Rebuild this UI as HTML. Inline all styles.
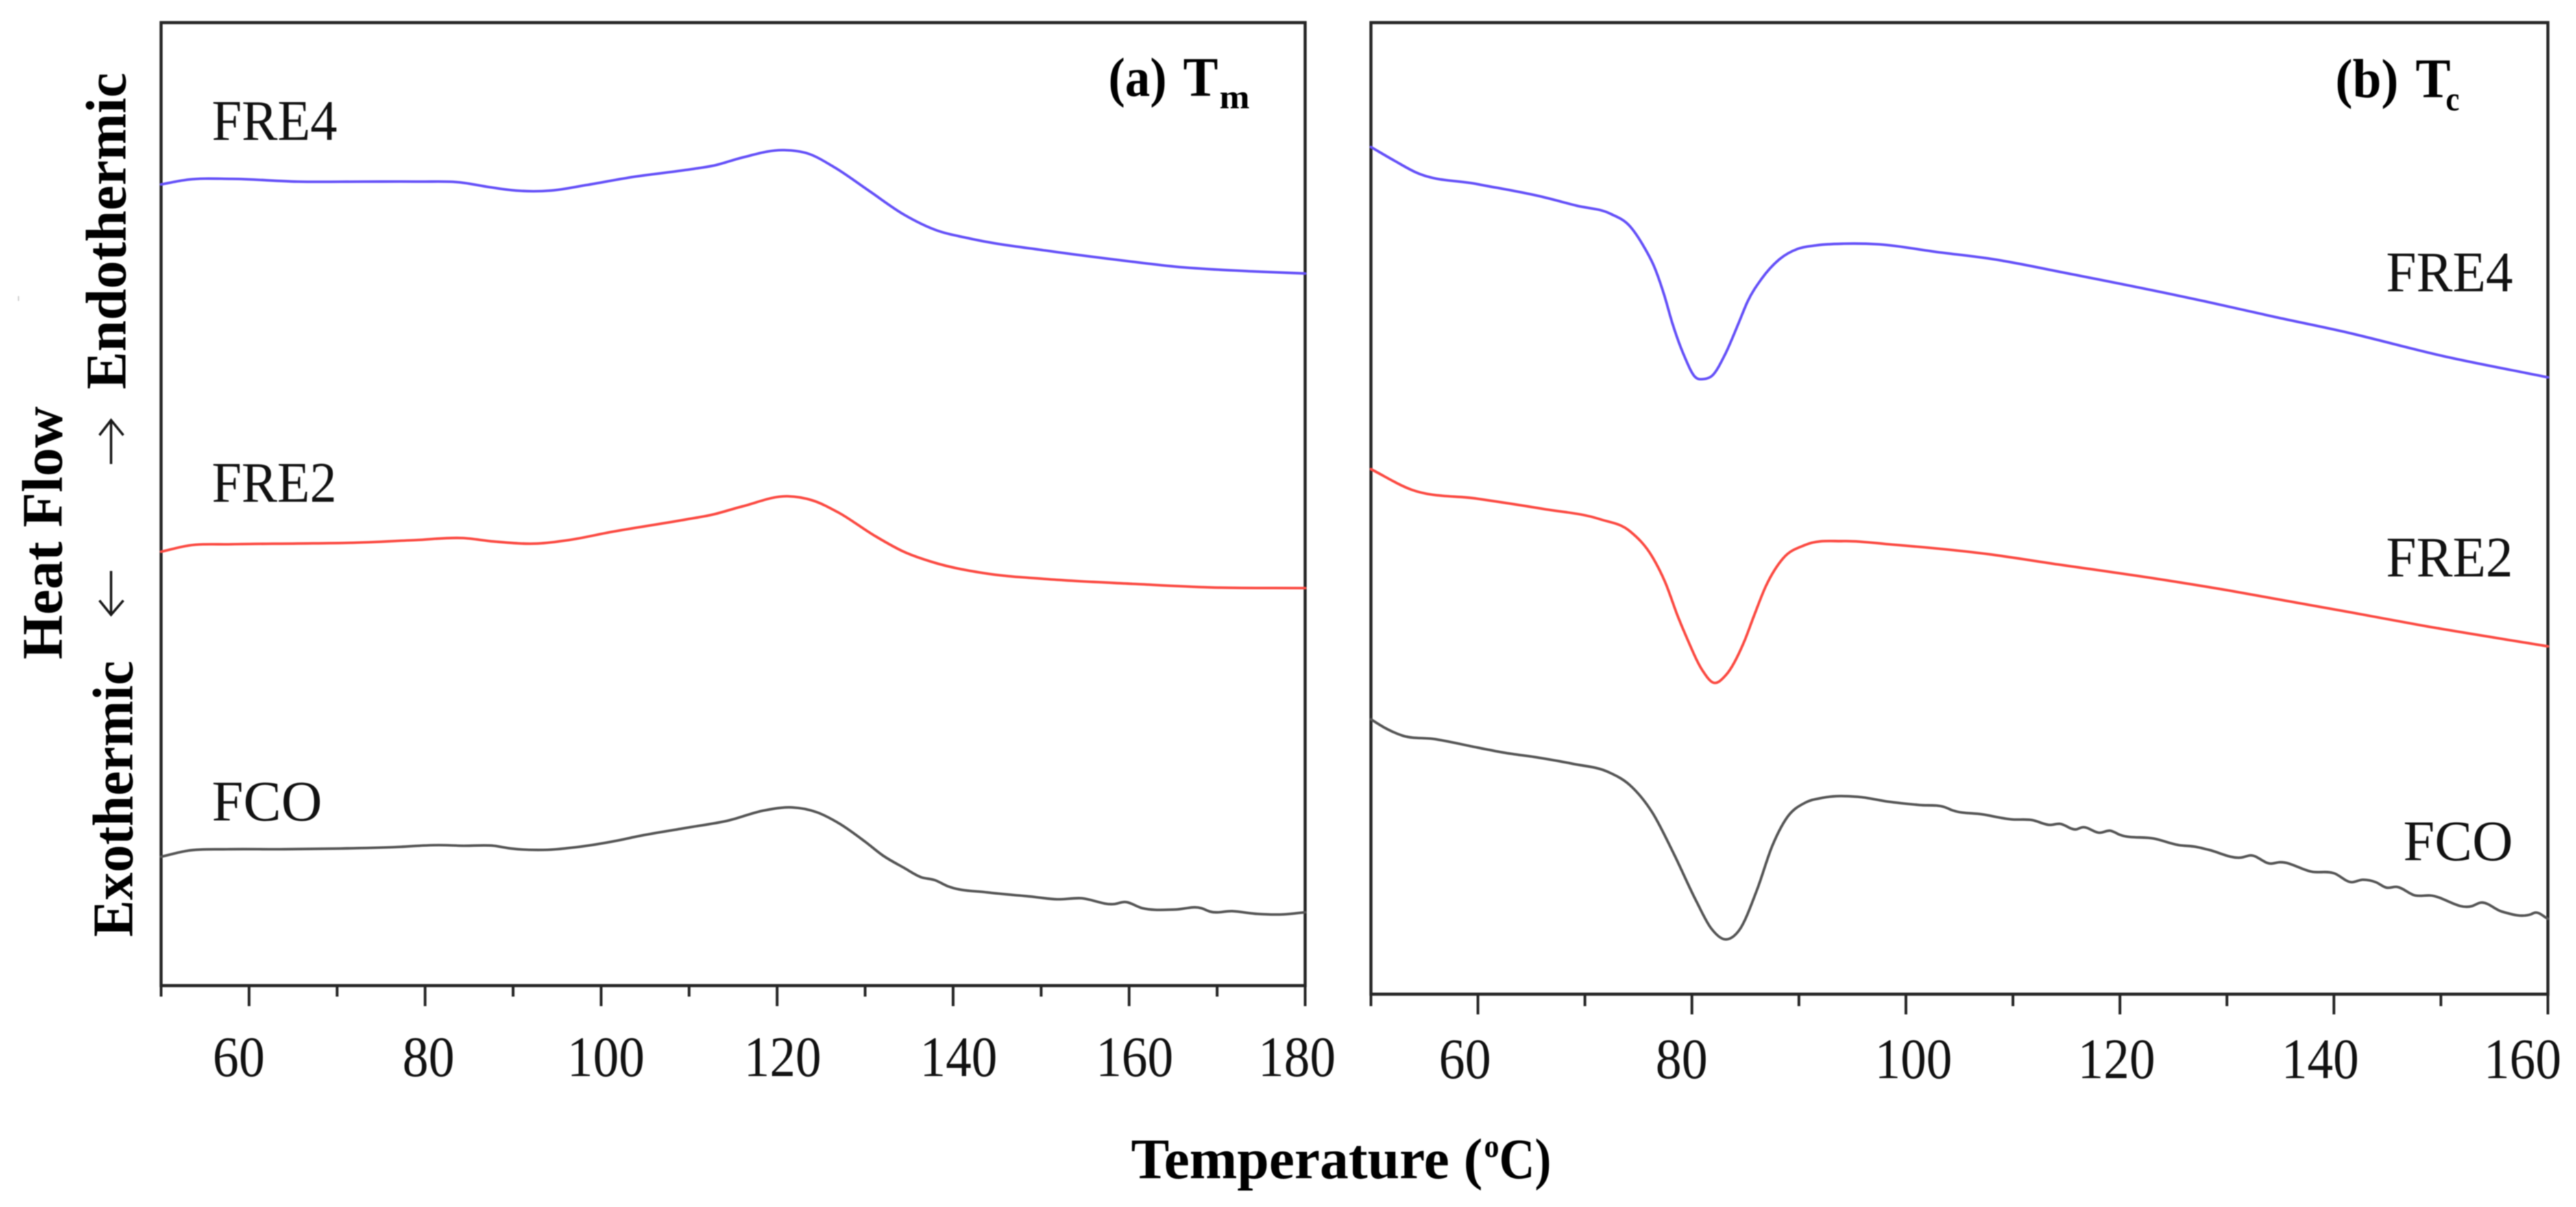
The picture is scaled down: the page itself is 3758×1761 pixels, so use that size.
<!DOCTYPE html>
<html lang="en">
<head>
<meta charset="utf-8">
<title>DSC curves: melting and crystallization</title>
<style>
html,body{margin:0;padding:0;background:#fff;}
svg{display:block;filter:blur(0.7px);}
text{font-family:"Liberation Serif","DejaVu Serif",serif;fill:#111;}
.b{font-weight:bold;fill:#000;}
.axis{stroke:#262626;stroke-width:4.5;fill:none;}
.tick{stroke:#262626;stroke-width:4;}
.curve{fill:none;stroke-width:3.8;stroke-linejoin:round;stroke-linecap:round;}
</style>
</head>
<body>
<svg id="chart" xmlns="http://www.w3.org/2000/svg" width="3758" height="1761" viewBox="0 0 3758 1761">
  <rect x="0" y="0" width="3758" height="1761" fill="#ffffff"/>
  <rect x="26" y="432" width="2" height="7" fill="#cfcfcf"/>

  <g id="panel-a">
    <rect class="axis" x="235" y="33" width="1669" height="1405"/>
    <g id="ticks-a"></g>
    <g id="curves-a"></g>
    <text x="309" y="204" font-size="84" textLength="183" lengthAdjust="spacingAndGlyphs">FRE4</text>
    <text x="309" y="732" font-size="84" textLength="182" lengthAdjust="spacingAndGlyphs">FRE2</text>
    <text x="309" y="1197" font-size="84" textLength="161" lengthAdjust="spacingAndGlyphs">FCO</text>
    <g>
      <text class="b" x="1617" y="140" font-size="80" textLength="85" lengthAdjust="spacingAndGlyphs">(a)</text>
      <text class="b" x="1726" y="140" font-size="82" textLength="51" lengthAdjust="spacingAndGlyphs">T</text>
      <text class="b" x="1779" y="158" font-size="50" textLength="44" lengthAdjust="spacingAndGlyphs">m</text>
    </g>
  </g>

  <g id="panel-b">
    <rect class="axis" x="2000" y="33" width="1717" height="1417.5"/>
    <g id="ticks-b"></g>
    <g id="curves-b"></g>
    <text x="3481" y="425" font-size="84" textLength="185" lengthAdjust="spacingAndGlyphs">FRE4</text>
    <text x="3481" y="841" font-size="84" textLength="185" lengthAdjust="spacingAndGlyphs">FRE2</text>
    <text x="3506" y="1255" font-size="84" textLength="160" lengthAdjust="spacingAndGlyphs">FCO</text>
    <g>
      <text class="b" x="3407" y="142" font-size="80" textLength="92" lengthAdjust="spacingAndGlyphs">(b)</text>
      <text class="b" x="3524" y="142" font-size="82" textLength="51" lengthAdjust="spacingAndGlyphs">T</text>
      <text class="b" x="3568" y="161" font-size="50" textLength="20" lengthAdjust="spacingAndGlyphs">c</text>
    </g>
  </g>

  <g>
    <text class="b" transform="translate(90,962) rotate(-90)" font-size="84" textLength="369" lengthAdjust="spacingAndGlyphs">Heat Flow</text>
    <text class="b" transform="translate(183,568) rotate(-90)" font-size="84" textLength="462" lengthAdjust="spacingAndGlyphs">Endothermic</text>
    <text class="b" transform="translate(193,1367) rotate(-90)" font-size="84" textLength="403" lengthAdjust="spacingAndGlyphs">Exothermic</text>
    <g fill="none" stroke="#1a1a1a" stroke-width="3.6">
      <line x1="162" y1="677" x2="162" y2="614"/>
      <polyline points="145,635 162,613 180,635"/>
    </g>
    <g fill="none" stroke="#1a1a1a" stroke-width="3.6">
      <line x1="162" y1="833" x2="162" y2="896"/>
      <polyline points="145,876 162,897 180,876"/>
    </g>
  </g>

  <g>
    <text class="b" x="1650" y="1719" font-size="84" textLength="513" lengthAdjust="spacingAndGlyphs">Temperature (</text>
    <text class="b" x="2165" y="1688" font-size="48" textLength="22" lengthAdjust="spacingAndGlyphs">o</text>
    <text class="b" x="2187" y="1719" font-size="84" textLength="76" lengthAdjust="spacingAndGlyphs">C)</text>
  </g>
</svg>

<script>
// ---- Panel (a) melting: temperature in deg C, heat flow in arbitrary units ----
const tempA_FRE4 = [50,53.1,58,65.5,73,79.4,83.9,87.3,90.3,94.3,98.3,103.7,109.6,113,116,120.8,123.5,126.5,130.4,134.4,137.9,141.9,150.8,159.2,165.2,174.2,180];
const heatA_FRE4 = [1169,1176,1177,1173,1173,1173,1172,1165,1160,1160,1168,1180,1190,1197,1208,1219,1214,1194,1160,1125,1103,1090,1072,1058,1049,1042,1039];
const tempA_FRE2 = [50,53.1,58,65.5,71.4,78.9,84.3,87.8,92.8,96.3,101.2,109.6,112.6,116,121.2,124,127,131,134.4,137.9,143.4,150.8,160.7,169.2,180];
const heatA_FRE2 = [633,642,644,645,646,650,653,648,645,650,662,680,687,699,714,708,690,657,633,617,602,593,586,581,580];
const tempA_FCO = [50,53.1,57.5,63.5,70.4,76.4,81.6,84.3,87.8,89.8,93.5,97.8,102.2,104.2,109.6,114.5,118.5,121.7,124.5,127,130,132,134.4,136.4,137.9,139.4,143.9,148.8,151.8,154.5,158.3,159.5,161.5,165.2,168.2,169.2,171.7,174.6,177.6,180];
const heatA_FCO = [188,197,199,199,200,202,205,204,204,200,198,203,212.5,218,230,241,255.5,260,253,237,210,190,172,158,154,145,136,130,126,127.5,119,122,113,111,113,108,108.6,104.6,104,107];

// ---- Panel (b) crystallization ----
const tempB_FRE4 = [50,52.2,54.2,59.9,66.1,69.2,72.4,74.2,75.4,76.5,77.4,78.2,79.3,80.3,81.1,81.9,83.1,84.4,85.2,86.5,88.2,89.9,91.6,94.2,97.5,102.8,108.3,115,127.9,134.5,140.8,150.2,160];
const heatB_FRE4 = [1236,1216,1199,1182,1163,1150.5,1138.5,1120.5,1093.5,1060.5,1020.5,977.5,930.5,900.5,897.5,902.5,933.5,980.5,1010.5,1043.5,1072.5,1087.5,1092.5,1095,1094,1083,1072,1052,1011,988,967,931,900];
const tempB_FRE2 = [50,53.8,59.9,66.1,71.4,74.2,76.3,77.5,78.7,79.5,81,82,83.2,84.9,85.8,86.9,88.5,90.6,94.2,98.7,107.7,114.2,122,130,135.7,141.6,148.2,160];
const heatB_FRE2 = [766,736,723,708,693,675.5,638,601,550.5,520.6,472,454.5,466,515,552,595,635.5,655.5,661,656,642,627,609.5,589.5,573.5,557,538,507.5];
const tempB_FCO = [50,51.3,53,55.8,59.9,62.4,65.7,68.9,72.2,74.2,76.3,78.3,80.4,81.8,83.1,84.4,86.1,87.5,88.9,90.6,92.2,95.5,98.3,101.25,103.6,104.4,107.1,109.9,111.8,113.4,114.4,115.9,116.5,118.1,119.1,120,123.2,125.5,127.1,128.3,131.4,132.2,134.1,134.9,138,140,141.6,142.7,143.9,144.9,145.9,147.6,149,152.9,153.7,155.7,158.4,158.8,160];
const heatB_FCO = [401,388.6,377,372.5,360,352.5,345,336,324,305,265,205,136,96,80,93,153,216,258,279.5,286.5,288,281,276,273,268,262.5,255,254,247,248.5,240.5,243.5,235.5,238.5,232.5,227,217.5,215,210.6,199.5,202.5,190.5,192.5,178.5,176.5,163.5,167,163.5,155.5,156.5,144,144,128.5,133.5,120.5,116.5,119,110];

// ---- Axis ticks ----
const majorTicksA = [60,80,100,120,140,160,180];
const minorTicksA = [50,70,90,110,130,150,170];
const majorTicksB = [60,80,100,120,140,160];
const minorTicksB = [50,70,90,110,130,150];

// ---- Axis functions ----
function xA(t){ return 235 + (t - 50) * (1669 / 130); }
function yA(v){ return 1438 - v; }
function xB(t){ return 2000 + (t - 50) * (1717 / 110); }
function yB(v){ return 1450.5 - v; }

const SVGNS = 'http://www.w3.org/2000/svg';

// Smooth cubic path (finite-difference tangents) through the scaled points
function smoothPath(px, py){
  const n = px.length, s = [], h = [], m = [];
  for (let i = 0; i < n - 1; i++) {
    h.push((px[i+1] - px[i]) || 1);
    s.push((py[i+1] - py[i]) / h[i]);
  }
  m.push(s[0]);
  for (let i = 1; i < n - 1; i++) {
    m.push((s[i-1] * h[i] + s[i] * h[i-1]) / (h[i-1] + h[i]));
  }
  m.push(s[n-2]);
  let d = 'M' + px[0].toFixed(2) + ' ' + py[0].toFixed(2);
  for (let i = 0; i < n - 1; i++) {
    const k = h[i] / 3;
    d += 'C' + (px[i] + k).toFixed(2) + ' ' + (py[i] + m[i] * k).toFixed(2) + ' '
      + (px[i+1] - k).toFixed(2) + ' ' + (py[i+1] - m[i+1] * k).toFixed(2) + ' '
      + px[i+1].toFixed(2) + ' ' + py[i+1].toFixed(2);
  }
  return d;
}

function drawCurve(parentId, name, color, temps, heats, xf, yf){
  const p = document.createElementNS(SVGNS, 'path');
  
  
  p.setAttribute('class', 'curve');
  p.setAttribute('stroke', color);
  p.setAttribute('d', smoothPath(temps.map(xf), heats.map(yf)));
  document.getElementById(parentId).appendChild(p);
}

function drawTicks(parentId, ticks, xf, y0, y1, prefix){
  ticks.forEach(function(t){
    const l = document.createElementNS(SVGNS, 'line');
    
    
    l.setAttribute('class', 'tick');
    l.setAttribute('x1', xf(t));
    l.setAttribute('x2', xf(t));
    l.setAttribute('y1', y0);
    l.setAttribute('y2', y1);
    document.getElementById(parentId).appendChild(l);
  });
}

function drawTickLabels(parentId, ticks, xf, baseline, nudge, prefix){
  ticks.forEach(function(t){
    const txt = String(t);
    const w = txt.length === 3 ? 113 : 76;
    const e = document.createElementNS(SVGNS, 'text');
    
    
    e.setAttribute('x', xf(t) + (nudge[t] || 0) - w / 2);
    e.setAttribute('y', baseline);
    e.setAttribute('font-size', '84');
    e.setAttribute('textLength', w);
    e.setAttribute('lengthAdjust', 'spacingAndGlyphs');
    e.textContent = txt;
    document.getElementById(parentId).appendChild(e);
  });
}

// Panel (a)
drawTicks('ticks-a', majorTicksA, xA, 1438, 1468, 'tick-a-major');
drawTicks('ticks-a', minorTicksA, xA, 1438, 1454, 'tick-a-minor');
drawTickLabels('ticks-a', majorTicksA, xA, 1570, {60:-15,80:5,100:7,120:8,140:8,160:8,180:-12}, 'tick-label-a');
drawCurve('curves-a', 'curve-a-fre4', '#6450f8', tempA_FRE4, heatA_FRE4, xA, yA);
drawCurve('curves-a', 'curve-a-fre2', '#fb4a42', tempA_FRE2, heatA_FRE2, xA, yA);
drawCurve('curves-a', 'curve-a-fco', '#555555', tempA_FCO, heatA_FCO, xA, yA);

// Panel (b)
drawTicks('ticks-b', majorTicksB, xB, 1450.5, 1480, 'tick-b-major');
drawTicks('ticks-b', minorTicksB, xB, 1450.5, 1468, 'tick-b-minor');
drawTickLabels('ticks-b', majorTicksB, xB, 1573, {60:-19,80:-15,100:11,120:-5,140:-20,160:-37}, 'tick-label-b');
drawCurve('curves-b', 'curve-b-fre4', '#6450f8', tempB_FRE4, heatB_FRE4, xB, yB);
drawCurve('curves-b', 'curve-b-fre2', '#fb4a42', tempB_FRE2, heatB_FRE2, xB, yB);
drawCurve('curves-b', 'curve-b-fco', '#555555', tempB_FCO, heatB_FCO, xB, yB);
</script>
</body>
</html>
